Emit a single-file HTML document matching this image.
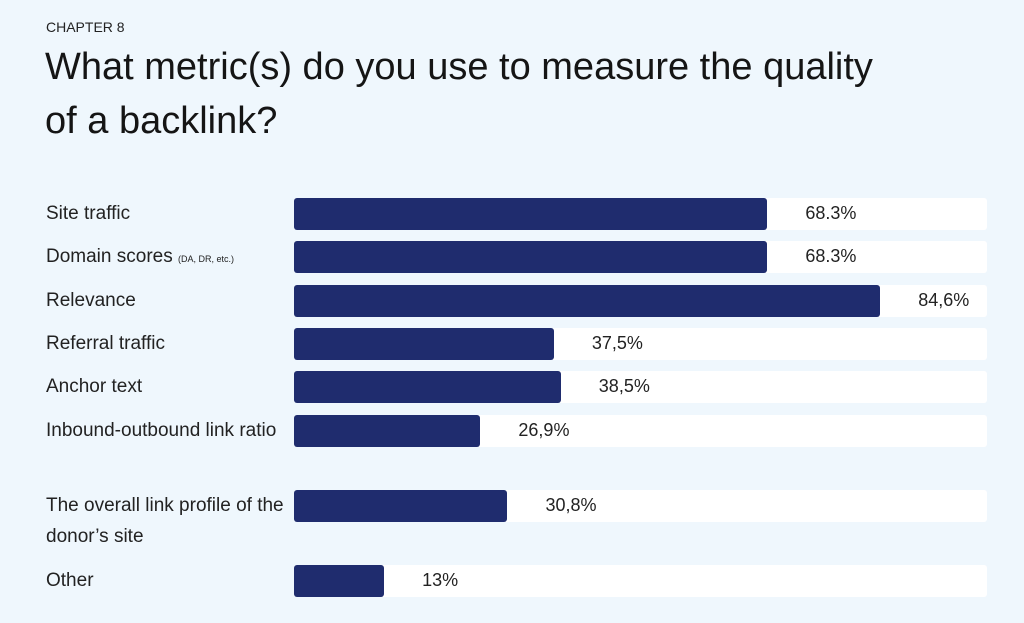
<!DOCTYPE html>
<html><head><meta charset="utf-8"><style>
body{margin:0;width:1024px;height:623px;background:#eff7fd;font-family:"Liberation Sans",sans-serif;position:relative;overflow:hidden;color:#1b1b1b}
.abs{position:absolute}
.track{position:absolute;background:#fff;border-radius:3px}
.bar{position:absolute;background:#1f2c6e;border-radius:3px}
.lbl{position:absolute;font-size:19px;color:#222;line-height:31px}
.val{position:absolute;font-size:18px;color:#222}
</style></head><body>
<div class="abs" style="left:46px;top:19px;font-size:14px;color:#222">CHAPTER 8</div>
<div class="abs" style="left:45px;top:40px;font-size:38px;line-height:54px;color:#151515;width:960px">What metric(s) do you use to measure the quality<br>of a backlink?</div>
<div id="chart"></div>
<script>
const categories=["Site traffic","Domain scores","Relevance","Referral traffic","Anchor text","Inbound-outbound link ratio","The overall link profile of the donor’s site","Other"];
const values=[68.3,68.3,84.6,37.5,38.5,26.9,30.8,13];
const valueLabels=["68.3%","68.3%","84,6%","37,5%","38,5%","26,9%","30,8%","13%"];
const rowTops=[198,241,285,328,371,415,490,565];
const x0=294,x1=987,barH=32;
function xScale(v){return x0+(x1-x0)*v/100;}
const chart=document.getElementById('chart');
categories.forEach((c,i)=>{
  const y=rowTops[i];
  const t=document.createElement('div');t.className='track';
  
  
  t.style.cssText=`left:${x0}px;top:${y}px;width:${x1-x0}px;height:${barH}px`;chart.appendChild(t);
  const b=document.createElement('div');b.className='bar';
  
  
  b.style.cssText=`left:${x0}px;top:${y}px;width:${xScale(values[i])-x0}px;height:${barH}px`;chart.appendChild(b);
  const v=document.createElement('div');v.className='val';
  
  
  v.textContent=valueLabels[i];
  v.style.cssText=`left:${xScale(values[i])+38}px;top:${y+5}px`;chart.appendChild(v);
  const l=document.createElement('div');l.className='lbl';
  
  
  l.style.cssText=`left:46px;top:${y}px;width:240px`;
  if(c==="Domain scores"){l.innerHTML='Domain scores <span style="font-size:9px">(DA, DR, etc.)</span>';}
  else l.textContent=c;
  chart.appendChild(l);
});
</script>
</body></html>
